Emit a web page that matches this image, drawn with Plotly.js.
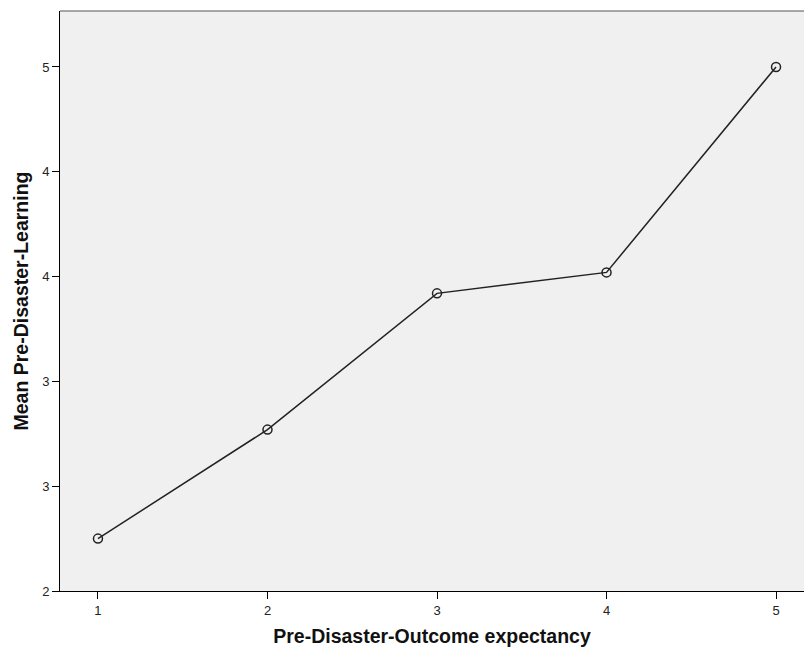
<!DOCTYPE html>
<html><head><meta charset="utf-8">
<script src="https://cdn.plot.ly/plotly-3.0.1.min.js"></script>
<style>body{margin:0;background:#fff}#c{width:804px;height:655px}</style>
</head><body><div id="c"></div>
<script>
const categories = [1, 2, 3, 4, 5];
const meanLearning = [2.25, 2.77, 3.42, 3.52, 4.50];
const yTickVals = [2, 2.5, 3, 3.5, 4, 4.5];
const yTickText = ['2', '3', '3', '4', '4', '5'];
const xTickVals = [1, 2, 3, 4, 5];
const xTickText = ['1', '2', '3', '4', '5'];

const trace = {
  x: categories, y: meanLearning, type: 'scatter', mode: 'lines+markers',
  line: {color: '#222', width: 1.5},
  marker: {symbol: 'circle-open', size: 9, color: '#222', line: {width: 1.5, color: '#222'}},
  hoverinfo: 'none'
};
const layout = {
  width: 804, height: 655,
  margin: {l: 60, r: 0, t: 11, b: 64},
  paper_bgcolor: '#fff', plot_bgcolor: '#f0f0f0',
  font: {family: 'Liberation Sans, Arial, sans-serif', size: 13, color: '#222'},
  showlegend: false,
  xaxis: {
    range: [0.776, 5.165], tickvals: xTickVals, ticktext: xTickText,
    showgrid: false, zeroline: false, showline: true, linecolor: '#000', linewidth: 1,
    ticks: 'outside', ticklen: 7, tickcolor: '#000',
    title: {text: 'Pre-Disaster-Outcome expectancy', font: {size: 19.5, color: '#111', weight: 'bold'}, standoff: 12}
  },
  yaxis: {
    range: [2, 4.767], tickvals: yTickVals, ticktext: yTickText,
    showgrid: false, zeroline: false, showline: true, linecolor: '#000', linewidth: 1,
    ticks: 'outside', ticklen: 7, tickcolor: '#000',
    title: {text: 'Mean Pre-Disaster-Learning', font: {size: 19.5, color: '#111', weight: 'bold'}, standoff: 8}
  },
  shapes: [{type: 'line', xref: 'paper', yref: 'paper', x0: 0, x1: 1, y0: 1, y1: 1, line: {color: '#555', width: 1}}]
};
Plotly.newPlot('c', [trace], layout, {displayModeBar: false, staticPlot: true});
</script></body></html>
